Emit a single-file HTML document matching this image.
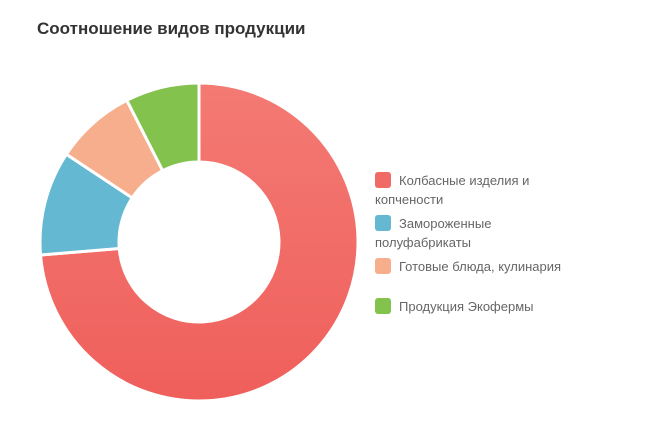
<!DOCTYPE html>
<html><head><meta charset="utf-8">
<style>
body{margin:0;width:652px;height:436px;background:#fff;overflow:hidden;font-family:"Liberation Sans",sans-serif;position:relative}
#title{position:absolute;left:37px;top:19px;font-size:17px;font-weight:bold;color:#333}
.leg{position:absolute;left:375px;width:195px;font-size:13px;line-height:19px;color:#666}
.mk{display:inline-block;width:16px;height:16px;border-radius:3px;vertical-align:-3px;margin-right:8px}
</style></head><body>
<div id="title">Соотношение видов продукции</div>
<svg id="chart" width="652" height="436" style="position:absolute;left:0;top:0">
<defs><linearGradient id="gr" x1="0" y1="0" x2="0" y2="1"><stop offset="0" stop-color="#f47a74"/><stop offset="1" stop-color="#ef5f5b"/></linearGradient></defs>
</svg>
<div class="leg" style="top:171px"><span class="mk" style="background:#f06a66"></span>Колбасные изделия и копчености</div>
<div class="leg" style="top:214px"><span class="mk" style="background:#65b8d2"></span>Замороженные полуфабрикаты</div>
<div class="leg" style="top:257px"><span class="mk" style="background:#f6ae8c"></span>Готовые блюда, кулинария</div>
<div class="leg" style="top:297px"><span class="mk" style="background:#82c24d"></span>Продукция Экофермы</div>
<script>
const categories=["Колбасные изделия и копчености","Замороженные полуфабрикаты","Готовые блюда, кулинария","Продукция Экофермы"];
const values=[73.7,10.6,8.2,7.5];
const colors=["url(#gr)","#65b8d2","#f6ae8c","#82c24d"];
const svg=document.getElementById('chart');
const cx=199,cy=242,R=159,r=80;
const total=values.reduce((a,b)=>a+b,0);
function pt(rad,a){return [cx+rad*Math.sin(a),cy-rad*Math.cos(a)];}
let a0=0;
values.forEach((v,i)=>{
  const a1=a0+v/total*2*Math.PI;
  const large=(a1-a0)>Math.PI?1:0;
  const p1=pt(R,a0),p2=pt(R,a1),p3=pt(r,a1),p4=pt(r,a0);
  const p=document.createElementNS('http://www.w3.org/2000/svg','path');
  p.setAttribute('d',`M${p1}A${R},${R} 0 ${large} 1 ${p2}L${p3}A${r},${r} 0 ${large} 0 ${p4}Z`);
  p.setAttribute('fill',colors[i]);
  p.setAttribute('stroke','#fff');
  p.setAttribute('stroke-width','3');
  
  
  svg.appendChild(p);
  a0=a1;
});
</script>
</body></html>
